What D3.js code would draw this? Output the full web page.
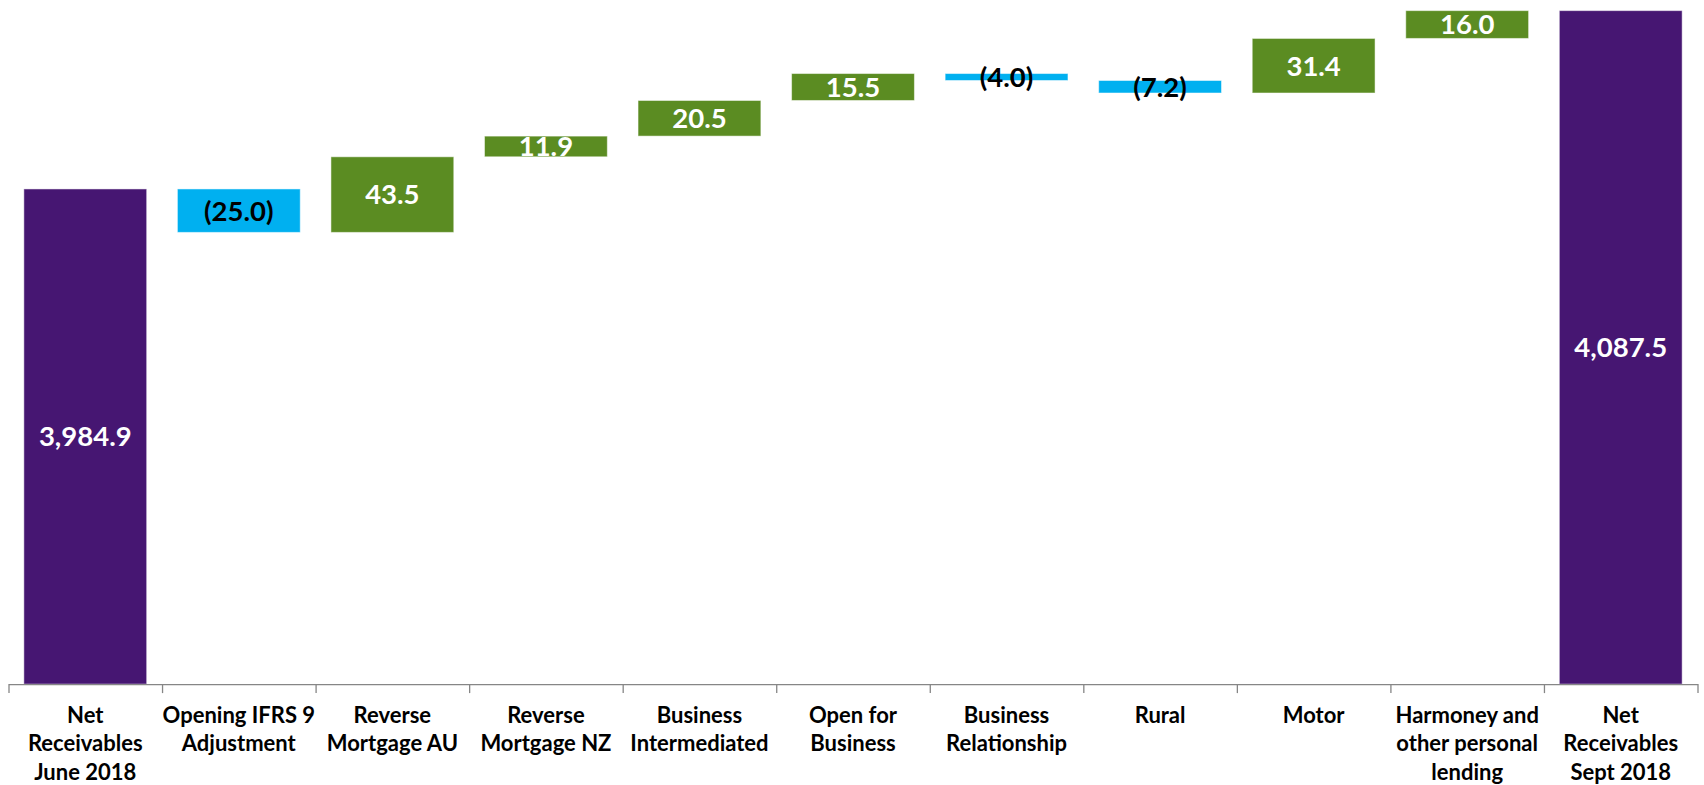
<!DOCTYPE html>
<html>
<head>
<meta charset="utf-8">
<script src="https://cdn.jsdelivr.net/npm/d3@7"></script>
<style>
  html, body { margin: 0; padding: 0; background: #fff; }
  svg { display: block; }
  text { font-family: Lato, "Open Sans", sans-serif; font-weight: bold; }
</style>
</head>
<body>
<svg id="chart" width="1704" height="785"></svg>
<script>
// Waterfall: net receivables movement, June 2018 to Sept 2018
const categories = [
  "Net\nReceivables\nJune 2018",
  "Opening IFRS 9\nAdjustment",
  "Reverse\nMortgage AU",
  "Reverse\nMortgage NZ",
  "Business\nIntermediated",
  "Open for\nBusiness",
  "Business\nRelationship",
  "Rural",
  "Motor",
  "Harmoney and\nother personal\nlending",
  "Net\nReceivables\nSept 2018"
];
const values = [3984.9, -25.0, 43.5, 11.9, 20.5, 15.5, -4.0, -7.2, 31.4, 16.0, 4087.5];
const isTotal = [true, false, false, false, false, false, false, false, false, false, true];
const yDomain = [3700, 4100];

const colors = { total: "#461672", up: "#5B8C22", down: "#00B0F0" };

const plotTop = -11.1, plotBottom = 684.1;
const left = 8.5, right = 1697.5;

const svg = d3.select("#chart");

const x = d3.scaleBand()
  .domain(d3.range(categories.length))
  .range([left, right])
  .paddingInner(0.2)
  .paddingOuter(0.1);

const xEdge = d3.scaleLinear().domain([0, categories.length]).range([left, right]);

const y = d3.scaleLinear().domain(yDomain).range([plotBottom, plotTop]);

// running totals -> bar extents
let running = 0;
const bars = values.map((v, i) => {
  let lo, hi, kind;
  if (isTotal[i]) {
    lo = yDomain[0]; hi = v; running = v; kind = "total";
  } else {
    const start = running, end = running + v;
    lo = Math.min(start, end); hi = Math.max(start, end);
    running = end; kind = v >= 0 ? "up" : "down";
  }
  return { i, v, lo, hi, kind };
});

const fmtTotal = d3.format(",.1f");
const fmtDelta = v => v < 0 ? "(" + d3.format(".1f")(-v) + ")" : d3.format(".1f")(v);

svg.append("g").selectAll("rect")
  .data(bars)
  .join("rect")
  .attr("x", d => x(d.i))
  .attr("width", x.bandwidth())
  .attr("y", d => y(d.hi))
  .attr("height", d => y(d.lo) - y(d.hi))
  .attr("fill", d => colors[d.kind])
  .attr("stroke", "#ffffff")
  .attr("stroke-opacity", 0.5)
  .attr("stroke-width", 1);

svg.append("g").selectAll("text")
  .data(bars)
  .join("text")
  .attr("x", d => x(d.i) + x.bandwidth() / 2)
  .attr("y", d => (y(d.lo) + y(d.hi)) / 2)
  .attr("dy", "0.36em")
  .attr("text-anchor", "middle")
  .attr("font-size", 27.5)
  .attr("fill", d => d.kind === "down" ? "#000" : "#fff")
  .text(d => d.kind === "total" ? fmtTotal(d.v) : fmtDelta(d.v));

// category axis with ticks at the band edges
svg.append("g")
  .attr("transform", `translate(0,${plotBottom})`)
  .call(d3.axisBottom(xEdge)
    .tickValues(d3.range(categories.length + 1))
    .tickSize(9)
    .tickSizeOuter(0)
    .tickFormat(""))
  .call(g => g.selectAll("path, line").attr("stroke", "#868686").attr("stroke-width", 1.3));

const lineH = 28.5;
const labels = svg.append("g").selectAll("text")
  .data(categories)
  .join("text")
  .attr("x", (d, i) => x(i) + x.bandwidth() / 2)
  .attr("y", 722.5)
  .attr("text-anchor", "middle")
  .attr("font-size", 22)
  .attr("fill", "#000");

labels.each(function(d) {
  const t = d3.select(this);
  const x0 = t.attr("x");
  d.split("\n").forEach((line, k) => {
    t.append("tspan").attr("x", x0).attr("dy", k === 0 ? 0 : lineH).text(line);
  });
});
</script>
</body>
</html>
